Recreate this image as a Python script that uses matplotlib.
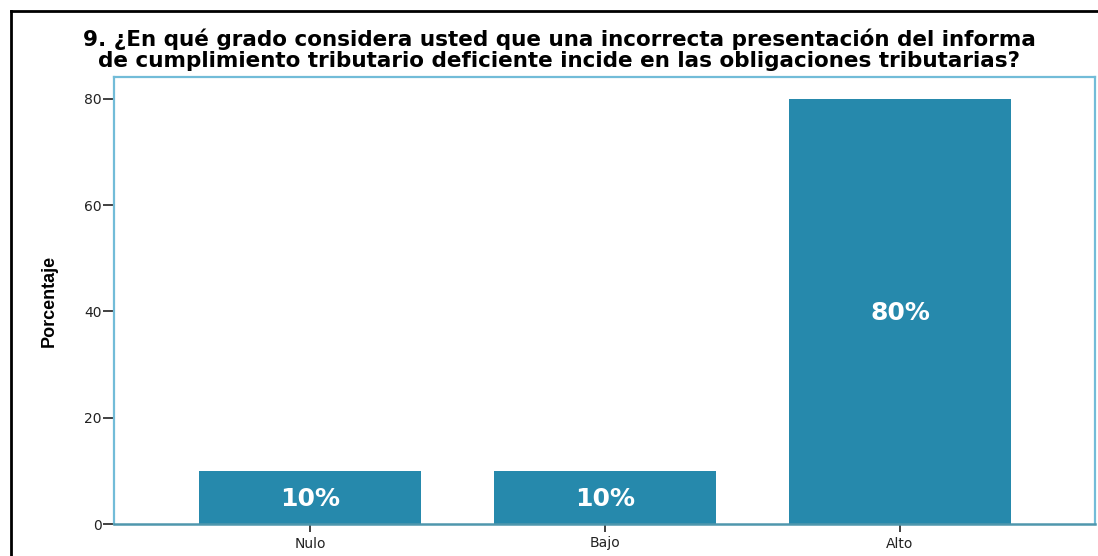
import matplotlib.pyplot as plt
from matplotlib.lines import Line2D

categorias = ['Nulo', 'Bajo', 'Alto']
porcentajes = [10, 10, 80]
etiquetas = ['10%', '10%', '80%']
yticks = [0, 20, 40, 60, 80]

titulo = ['9. ¿En qué grado considera usted que una incorrecta presentación del informa',
          'de cumplimiento tributario deficiente incide en las obligaciones tributarias?']

plt.rcParams['font.family'] = ['DejaVu Sans']

W, H = 1098, 556
fig = plt.figure(figsize=(W / 100, H / 100), dpi=100)
ax = fig.add_axes([114 / W, 1 - 524 / H, (1095 - 114) / W, (524 - 77) / H])

x = range(len(categorias))
barras = ax.bar(x, porcentajes, width=0.75, color='#2689ac', zorder=2)
for b, txt in zip(barras, etiquetas):
    ax.text(b.get_x() + b.get_width() / 2, b.get_height() / 2 - 0.3, txt,
            ha='center', va='center', color='white', fontsize=18, fontweight='bold')

ax.set_xlim(-0.664, 2.661)
ax.set_ylim(0, 84.1)
ax.set_xticks(list(x))
ax.set_xticklabels(categorias, fontsize=10)
ax.set_yticks(yticks)
ax.set_yticklabels([str(v) for v in yticks], fontsize=10)
ax.tick_params(axis='y', length=8, width=1.3, color='#333333', labelcolor='#222222', pad=1)
ax.tick_params(axis='x', length=6, width=1.3, color='#333333', labelcolor='#222222', pad=3)

for s in ['left', 'top', 'right']:
    ax.spines[s].set_color('#72bcd8')
    ax.spines[s].set_linewidth(1.6)
ax.spines['bottom'].set_color('#4f97ad')
ax.spines['bottom'].set_linewidth(1.8)

ax.set_ylabel('Porcentaje', fontsize=13, fontweight='bold',
              family=['Liberation Sans Narrow', 'Liberation Sans'], labelpad=19)

# titulo en dos lineas
fig.text(559 / W, 1 - 39 / H, titulo[0], ha='center', va='center', fontsize=15.5,
         fontweight='bold')
fig.text(559 / W, 1 - 61 / H, titulo[1], ha='center', va='center', fontsize=15.5,
         fontweight='bold')

# marco exterior
fig.add_artist(Line2D([11 / W, 11 / W], [0, 1 - 11 / H], color='black', lw=2))
fig.add_artist(Line2D([11 / W, 1], [1 - 11 / H, 1 - 11 / H], color='black', lw=2))

fig.savefig('out.png', dpi=100)
